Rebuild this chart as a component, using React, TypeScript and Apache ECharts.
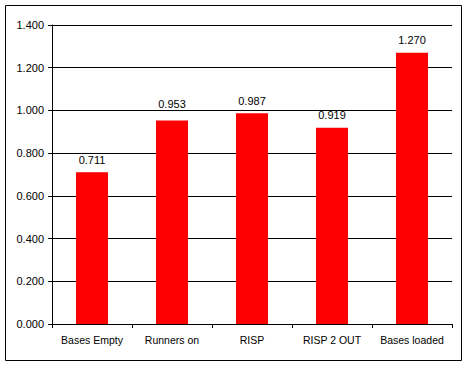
import React, { useEffect, useRef } from "react";
import * as echarts from "echarts";

const categories = ["Bases Empty", "Runners on", "RISP", "RISP 2 OUT", "Bases loaded"];
const values = [0.711, 0.953, 0.987, 0.919, 1.27];

export default function App() {
  const ref = useRef<HTMLDivElement>(null);
  useEffect(() => {
    if (!ref.current) return;
    const chart = echarts.init(ref.current, null, { renderer: "svg" });
    const font = "'Liberation Sans', Arial, sans-serif";
    const seriesData = values.map((v, i) =>
      i === 1 ? { value: v, label: { distance: 11 } } : { value: v }
    );
    chart.setOption({
      animation: false,
      backgroundColor: "#ffffff",
      graphic: [
        {
          type: "rect",
          shape: { x: 5.5, y: 5.5, width: 456, height: 355 },
          style: { fill: "none", stroke: "#000", lineWidth: 1 },
          silent: true,
        },
      ],
      grid: { left: 52, right: 16, top: 25, bottom: 44, containLabel: false },
      xAxis: {
        type: "category",
        data: categories,
        boundaryGap: true,
        axisLine: { show: true, lineStyle: { color: "#000", width: 1 } },
        axisTick: { show: true, length: 4, alignWithLabel: false, lineStyle: { color: "#000" } },
        axisLabel: { color: "#000", fontFamily: font, fontSize: 10.5, margin: 10, interval: 0 },
        splitLine: { show: false },
      },
      yAxis: {
        type: "value",
        min: 0,
        max: 1.4,
        interval: 0.2,
        axisLine: { show: true, lineStyle: { color: "#000", width: 1 } },
        axisTick: { show: true, length: 4, lineStyle: { color: "#000" } },
        axisLabel: {
          color: "#000",
          fontFamily: font,
          fontSize: 11,
          margin: 8,
          formatter: (v: number) => v.toFixed(3),
        },
        splitLine: { show: true, lineStyle: { color: "#000", width: 1 } },
      },
      series: [
        {
          type: "bar",
          data: seriesData,
          barWidth: 32,
          itemStyle: { color: "#ff0000" },
          label: {
            show: true,
            position: "top",
            distance: 7,
            color: "#000",
            fontFamily: font,
            fontSize: 11,
            formatter: (p: any) => Number(p.value).toFixed(3),
          },
        },
      ],
    });
    return () => chart.dispose();
  }, []);
  return (
    <div
      ref={ref}
      style={{ position: "fixed", left: 0, top: 0, width: 468, height: 368 }}
    />
  );
}
